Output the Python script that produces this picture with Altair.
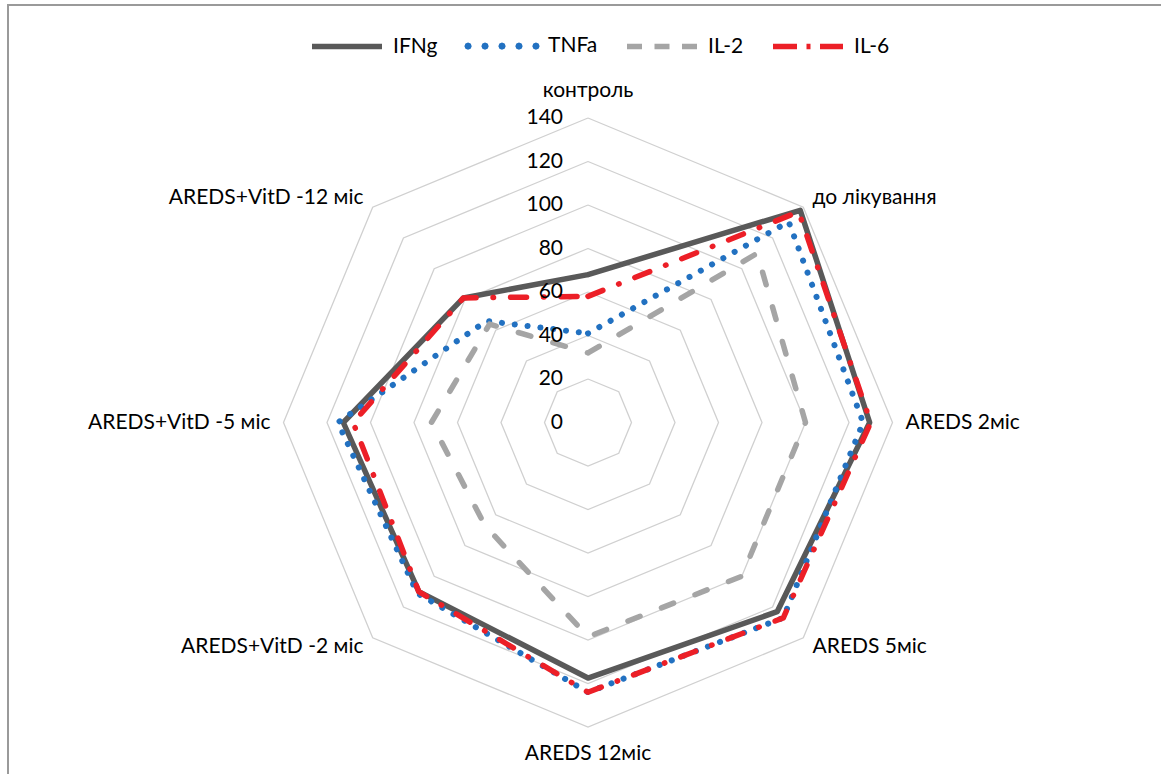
import math
import altair as alt
import pandas as pd

# ---------------- data ----------------
categories = ["контроль", "до лікування", "AREDS 2міс", "AREDS 5міс", "AREDS 12міс",
              "AREDS+VitD -2 міс", "AREDS+VitD -5 міс", "AREDS+VitD -12 міс"]
series_names = ["IFNg", "TNFa", "IL-2", "IL-6"]
ifng = [68, 138, 129.5, 123, 117.5, 110, 112.5, 81]
tnfa = [41, 130.5, 126.5, 127, 124, 111, 115, 66]
il2 = [32, 110, 100, 100, 98.5, 67, 72, 64]
il6 = [58, 137, 130, 127, 124, 110, 108, 81]
ticks = [0, 20, 40, 60, 80, 100, 120, 140]

series_values = {"IFNg": ifng, "TNFa": tnfa, "IL-2": il2, "IL-6": il6}
colors = ["#595959", "#2271C1", "#A5A5A5", "#EC1F27"]
widths = [5.5, 6, 5.5, 5.5]
dashes = [None, [0.1, 12.8], [13, 23], [16, 17, 0.5, 17]]

N = len(categories)
rows = []
for si, s in enumerate(series_names):
    vals = series_values[s]
    for i in range(N + 1):          # close the polygon
        rows.append({"series": s, "idx": i, "value": vals[i % N]})
series_df = pd.DataFrame(rows)

grid_rows = []
for lv in ticks[1:]:
    for i in range(N + 1):
        grid_rows.append({"level": lv, "idx": i, "value": lv})
grid_df = pd.DataFrame(grid_rows)

ticks_df = pd.DataFrame({"tick": ticks})
cat_df = pd.DataFrame({"category": categories, "idx": list(range(N))})

# ---------------- layout ----------------
W, H = 1161, 774
CX, CY = 588, 422.5
PX = 2.175  # pixels per data unit
FONT = "Lato"

xscale = alt.Scale(domain=[-CX / PX, (W - CX) / PX], nice=False, zero=False)
yscale = alt.Scale(domain=[-(H - CY) / PX, CY / PX], nice=False, zero=False)
cscale = alt.Scale(domain=series_names, range=colors)

def polar(chart, rexpr="datum.value"):
    return chart.transform_calculate(
        ang=f"2*PI*datum.idx/{N}"
    ).transform_calculate(
        px=f"({rexpr})*sin(datum.ang)",
        py=f"({rexpr})*cos(datum.ang)",
    )

grid = polar(alt.Chart(grid_df)).mark_line(color="#d0d0d0", strokeWidth=1.3).encode(
    x=alt.X("px:Q", scale=xscale, axis=None),
    y=alt.Y("py:Q", scale=yscale, axis=None),
    detail="level:N",
    order="idx:Q",
)

# legend symbol for the dotted series: a row of tiny octagons (stroked -> round dots)
rho = 0.02
dot_centers = [-0.97, -0.485, 0.0, 0.485, 0.97]
parts = []
for c in dot_centers:
    pts = [(c + rho * math.cos(k * math.pi / 4), rho * math.sin(k * math.pi / 4)) for k in range(8)]
    parts.append("M" + "L".join(f"{x:.4f},{y:.4f}" for x, y in pts) + "Z")
dot_path = "".join(parts)
symbol_type_expr = f"datum.value === 'TNFa' ? '{dot_path}' : 'stroke'"
symbol_dash_expr = ("datum.value === 'IL-2' ? [15,12.5] : "
                    "(datum.value === 'IL-6' ? [24,9.5,4,9.5] : [1,0])")

legend = alt.Legend(
    orient="none", legendX=309, legendY=8, direction="horizontal", columns=4,
    title=None, symbolType={"expr": symbol_type_expr}, symbolDash={"expr": symbol_dash_expr},
    symbolSize=4900, symbolStrokeWidth=5.5,
    labelFont=FONT, labelFontSize=21, labelColor="#000000", labelOffset=8,
    columnPadding=18, padding=0,
)

series_layers = []
for s, w, d in zip(series_names, widths, dashes):
    mark_kw = dict(strokeCap="round", strokeJoin="round", strokeWidth=w)
    if d is not None:
        mark_kw["strokeDash"] = d
    layer = polar(alt.Chart(series_df).transform_filter(f"datum.series === '{s}'")).mark_line(
        **mark_kw
    ).encode(
        x=alt.X("px:Q", scale=xscale, axis=None),
        y=alt.Y("py:Q", scale=yscale, axis=None),
        color=alt.Color("series:N", scale=cscale, legend=legend),
        order="idx:Q",
    )
    series_layers.append(layer)

tick_labels = alt.Chart(ticks_df).mark_text(
    align="right", baseline="middle", dx=-25, font=FONT, fontSize=21, color="#000000"
).encode(
    x=alt.value(CX),
    y=alt.Y("tick:Q", scale=yscale, axis=None),
    text="tick:Q",
)

def cat_layer(filter_expr, align, rextra):
    base = alt.Chart(cat_df).transform_filter(filter_expr)
    return polar(base, f"140+{rextra}").mark_text(
        align=align, baseline="middle", font=FONT, fontSize=21, color="#000000"
    ).encode(
        x=alt.X("px:Q", scale=xscale, axis=None),
        y=alt.Y("py:Q", scale=yscale, axis=None),
        text="category:N",
    )

cat_center = cat_layer("datum.idx % 4 == 0", "center", 12.5)
cat_left = cat_layer("datum.idx > 0 && datum.idx < 4", "left", 6)
cat_right = cat_layer("datum.idx > 4", "right", 6)

one = alt.Data(values=[{}])
frame_left = alt.Chart(one).mark_rule(color="#9a9a9a", strokeWidth=2).encode(
    x=alt.value(8), y=alt.value(4), y2=alt.value(H))
frame_top = alt.Chart(one).mark_rule(color="#9a9a9a", strokeWidth=2).encode(
    x=alt.value(7), x2=alt.value(W), y=alt.value(5))

chart = alt.layer(
    grid, *series_layers, tick_labels, cat_center, cat_left, cat_right, frame_left, frame_top
).properties(
    width=W, height=H, padding=0, autosize=alt.AutoSizeParams(type="none"),
    background="white",
).configure_view(stroke=None)

chart.save("out.html", embed_options={"renderer": "svg", "actions": False})
